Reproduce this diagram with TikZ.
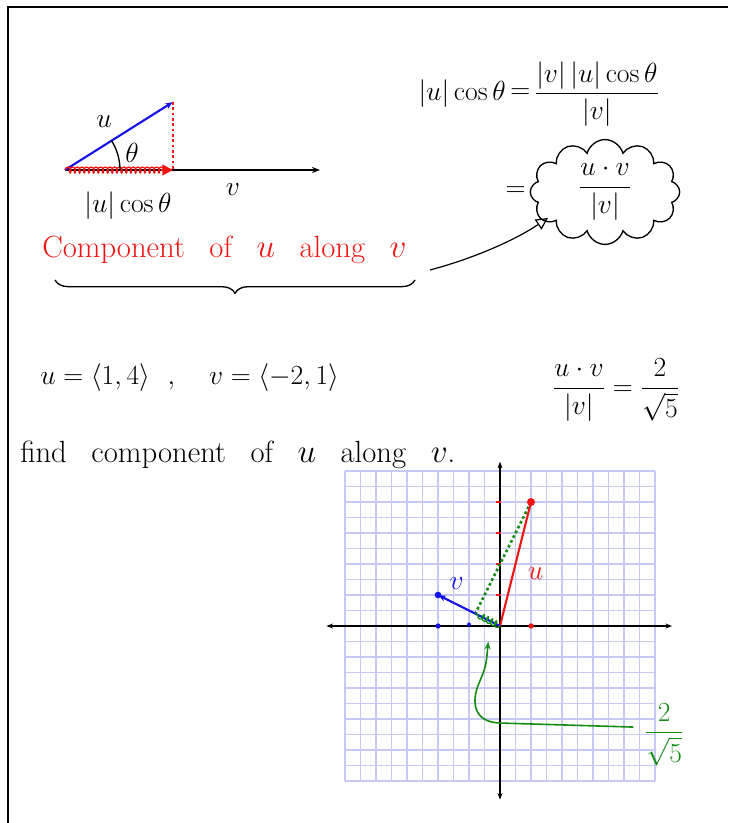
\documentclass[tikz,border=0pt]{standalone}
\usepackage{amsmath}
\usepackage{amssymb}
\usepackage{tikz}
\usetikzlibrary{arrows.meta, positioning, decorations.pathreplacing,
                decorations.pathmorphing, shapes.symbols, calc}
\definecolor{gridlav}{RGB}{200,200,245}
\definecolor{penred}{RGB}{240,20,20}
\definecolor{penblue}{RGB}{20,20,235}
\definecolor{pengreen}{RGB}{20,140,20}
\tikzset{
  handtxt/.style={inner sep=0pt, font=\fontsize{22}{26}\selectfont},
  handbig/.style={inner sep=0pt, font=\fontsize{23}{27}\selectfont},
  vecline/.style={line width=1.6pt},
  coilpath/.style={decorate, line width=1pt,
                   decoration={coil, aspect=0.6, segment length=3.5pt, amplitude=2.2pt}},
  dotpt/.style={circle, inner sep=0pt, minimum size=4pt},
  axisline/.style={line width=1.3pt, {Stealth[length=5pt]}-{Stealth[length=5pt]}},
}

\begin{document}
\begin{tikzpicture}[x=0.75pt, y=-0.75pt]
  \useasboundingbox (0,0) rectangle (728,823);
  \draw[line width=1.8pt] (8,823) -- (8,7) -- (728,7);

  % projection sketch
  \coordinate (O) at (65,170);
  \coordinate (uend) at (173,102);
  \coordinate (foot) at (173,170);
  \coordinate (vend) at (320,170);
  \draw[line width=1.3pt, -{Stealth[length=6pt]}] (O) -- (vend);
  \draw[penblue, vecline, -{Stealth[length=6pt]}] (O) -- (uend);
  \draw[penred, line width=2pt, dotted] (uend) -- (foot);
  \draw[penred, coilpath] (O) -- ($(foot)+(-8,0)$);
  \draw[penred, line width=1.5pt, -{Triangle[length=8pt,width=8pt]}] ($(foot)+(-12,0)$) -- (foot);
  \draw[line width=1pt] (O) ++(55,0) arc[start angle=0, end angle=-32, radius=55];
  \node[handtxt] (ulab) at (104,122) {$u$};
  \node[handtxt] (thlab) at (132,153) {$\theta$};
  \node[handtxt] (projlab) at (128,206) {$|u|\cos\theta$};
  \node[handtxt] (vlab) at (233,190) {$v$};
  \node[handbig, penred, anchor=west] (comp) at (42,250)
    {Component\hspace{0.8em}of\hspace{0.8em}$u$\hspace{0.8em}along\hspace{0.8em}$v$};
  \coordinate (braceL) at (55,280);
  \coordinate (braceR) at (415,280);
  \draw[line width=1pt, decorate, decoration={brace, mirror, amplitude=10pt}] (braceL) -- (braceR);

  % formulas on the right
  \node[handtxt, anchor=east] (eqL) at (506,94) {$|u|\cos\theta$};
  \node[handtxt, right=3pt of eqL] (eq1) {$=$};
  \node[handtxt, right=3pt of eq1] (eqR) {$\dfrac{|v|\,|u|\cos\theta}{|v|}$};
  \node[draw, cloud, cloud puffs=12, aspect=1.7, minimum width=112pt, minimum height=72pt,
        line width=1pt, handtxt] (cloud) at (605,192) {$\dfrac{u\cdot v}{|v|}$};
  \node[handtxt, left=3pt of cloud] (eq2) {$=$};
  \coordinate (tail) at (430,270);
  \coordinate (cloudin) at (548,218);
  \draw[line width=0.9pt, -{Triangle[open, length=9pt, width=9pt]}]
    (tail) .. controls (475,258) and (515,240) .. (cloudin);

  % example
  \node[handtxt, anchor=west] (given) at (40,378)
    {$u=\langle 1,4\rangle\ \ ,\quad v=\langle -2,1\rangle$};
  \node[handtxt] (ratio) at (616,390) {$\dfrac{u\cdot v}{|v|}=\dfrac{2}{\sqrt{5}}$};
  \node[handbig, anchor=west] (task) at (20,455)
    {find\hspace{0.8em}component\hspace{0.8em}of\hspace{0.8em}$u$\hspace{0.8em}along\hspace{0.8em}$v$.};

  % graph
  \begin{scope}[shift={(500,626)}, x=23.25pt, y=23.25pt]
    \draw[gridlav, line width=1.4pt] (-5,-5) grid[step=0.5] (5,5);
    \coordinate (org) at (0,0);
    \coordinate (utip) at (1,4);
    \coordinate (vtip) at (-2,1);
    \coordinate (proj) at (-0.8,0.4);
    \coordinate (xl) at (-5.6,0);
    \coordinate (xr) at (5.55,0);
    \coordinate (yt) at (0,5.3);
    \coordinate (yb) at (0,-5.6);
    \draw[axisline] (xl) -- (xr);
    \draw[axisline] (yb) -- (yt);
    \foreach \k in {1,...,4}
      \draw[penred, line width=1pt] (-0.12,\k) -- (0.02,\k);
    \node[dotpt, fill=penred] (xone) at (1,0) {};
    \node[dotpt, fill=penblue] (xmtwo) at (-2,0) {};
    \node[dotpt, fill=penblue, minimum size=3pt] (xmone) at (-1,0.05) {};
    \draw[pengreen, line width=2pt, dotted] (utip) -- (proj);
    \draw[penred, vecline] (org) -- (utip);
    \node[dotpt, fill=penred, minimum size=6pt] (udot) at (utip) {};
    \draw[penblue, vecline, -{Stealth[length=6pt]}] (org) -- (vtip);
    \node[dotpt, fill=penblue, minimum size=5pt] (vdot) at (vtip) {};
    \draw[pengreen, coilpath] (org) -- (proj);
    \node[handtxt, penred] (ulbl) at (1.15,1.7) {$u$};
    \node[handtxt, penblue] (vlbl) at (-1.4,1.38) {$v$};
    \coordinate (gstart) at (4.3,-3.26);
    \coordinate (gtip) at (-0.38,-0.5);
    \draw[pengreen, line width=1.2pt, -{Stealth[length=6pt]}]
      (gstart) -- (0,-3.13) .. controls (-0.9,-3.1) and (-0.9,-2.4) .. (-0.7,-1.9)
      .. controls (-0.45,-1.3) .. (gtip);
    \node[handtxt, pengreen] (frac) at (5.3,-3.5) {$\dfrac{2}{\sqrt{5}}$};
  \end{scope}
\end{tikzpicture}
\end{document}
